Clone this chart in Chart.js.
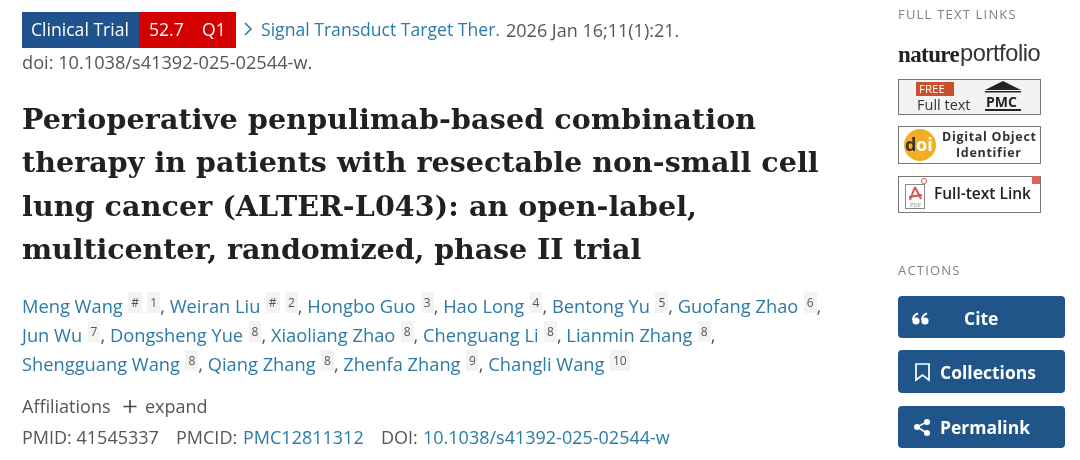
<!DOCTYPE html>
<html>
<head>
<meta charset="utf-8">
<title>Perioperative penpulimab-based combination therapy</title>
<style>
    html, body { margin: 0; padding: 0; width: 1080px; height: 460px; overflow: hidden; background: #fff; font-family: "Open Sans", sans-serif; }
    #page { position: absolute; left: 0; top: 0; }
    .t { position: absolute; white-space: pre; line-height: 1; }
    .body { font-size: 18px; }
    .link { color: #2a7ba6; }
    .gray { color: #555; }
    .title { font-family: "DejaVu Serif", serif; font-weight: bold; font-size: 28.5px; color: #212121; left: 22px; }
    .author { font-size: 18.3px; color: #2c7aa5; left: 22px; }
    .author sup { font-size: 12px; color: #555; background: #f3f3f3; padding: 2px 3px; margin: 0 0 0 5.4px; vertical-align: 6px; line-height: 1; }
    .author i { font-style: normal; color: #555; }
    .head { font-size: 13px; letter-spacing: 1.2px; color: #808080; left: 898px; }
    .btn { color: #fff; font-weight: 700; font-size: 17.5px; }
</style>
</head>
<body>
<canvas id="page" width="1080" height="460"></canvas>
<div id="text"></div>
<script src="https://cdn.jsdelivr.net/npm/chart.js"></script>
<script>
// the reference is an article header, there are no values to plot
const titleLines = [
    "Perioperative penpulimab-based combination",
    "therapy in patients with resectable non-small cell",
    "lung cancer (ALTER-L043): an open-label,",
    "multicenter, randomized, phase II trial"
];
const authorLines = [
    [["Meng Wang", "#", "1"], ["Weiran Liu", "#", "2"], ["Hongbo Guo", "3"], ["Hao Long", "4"], ["Bentong Yu", "5"], ["Guofang Zhao", "6"]],
    [["Jun Wu", "7"], ["Dongsheng Yue", "8"], ["Xiaoliang Zhao", "8"], ["Chenguang Li", "8"], ["Lianmin Zhang", "8"]],
    [["Shengguang Wang", "8"], ["Qiang Zhang", "8"], ["Zhenfa Zhang", "9"], ["Changli Wang", "10"]]
];
const endsWithComma = [true, true, false];

function addText(cls, left, top, html, extra) {
    let el = document.createElement('div');
    el.className = 't ' + cls;
    if (left !== null) el.style.left = left + 'px';
    el.style.top = top + 'px';
    el.innerHTML = html;
    if (extra) el.style.cssText += extra;
    document.getElementById('text').appendChild(el);
}

// top row
addText('body', 31, 21, 'Clinical Trial', 'color:#fff;font-size:17.6px;');
addText('body', 149, 21, '52.7', 'color:#fff;font-size:17.6px;');
addText('body', 202, 21, 'Q1', 'color:#fff;font-size:17.6px;');
addText('body link', 261, 21, 'Signal Transduct Target Ther.', 'font-size:17.6px;');
addText('body gray', 506, 21, '2026 Jan 16;11(1):21.');
addText('body gray', 22, 53, 'doi: 10.1038/s41392-025-02544-w.', 'font-size:18.2px;');

// each line nudged a little to end where the reference line ends
const titleSpacing = [0.15, 0.06, 0.1, -0.08];
titleLines.forEach((line, i) => addText('title', null, 104.5 + i * 43.5, line, 'letter-spacing:' + titleSpacing[i] + 'px;'));

authorLines.forEach((row, i) => {
    let html = row.map(a => {
        let sups = a.slice(1).map(s => '<sup>' + s + '</sup>').join('');
        return a[0] + sups;
    }).join('<i>, </i>');
    if (endsWithComma[i]) html += '<i>,</i>';
    addText('author', null, 296.5 + i * 29, html);
});

addText('body gray', 22, 397, 'Affiliations');
addText('body gray', 145, 397, 'expand');
addText('body gray', 22, 428, 'PMID: 41545337');
addText('body gray', 176, 428, 'PMCID:');
addText('body link', 243, 428, 'PMC12811312');
addText('body gray', 381, 428, 'DOI:');
addText('body link', 423, 428, '10.1038/s41392-025-02544-w');

// side panel
addText('head', null, 8, 'FULL TEXT LINKS');
addText('head', null, 264, 'ACTIONS');
addText('', 898, 43, 'nature', 'font-family:\'Liberation Serif\',serif;font-weight:bold;font-size:23px;color:#222;letter-spacing:-0.6px;');
addText('', 960, 42, 'portfolio', 'font-family:\'Liberation Sans\',sans-serif;font-size:23.6px;color:#333;letter-spacing:-0.4px;');
addText('', 919, 83, 'FREE', 'color:#fff;font-size:11.5px;');
addText('', 917, 98, 'Full text', 'color:#333;font-size:14.5px;');
addText('', 986, 95, 'PMC', 'color:#222;font-size:14px;font-weight:bold;');
addText('', 942, 131, 'Digital Object', 'color:#333;font-size:12.5px;font-weight:bold;letter-spacing:.7px;');
addText('', 956, 147, 'Identifier', 'color:#333;font-size:12.5px;font-weight:bold;letter-spacing:.7px;');
addText('', 934, 186, 'Full-text Link', 'color:#222;font-size:15.5px;font-weight:600;');
addText('btn', 964, 310, 'Cite');
addText('btn', 940, 364, 'Collections');
addText('btn', 940, 419, 'Permalink');

function box(c, x, y, w, h) {
    c.strokeStyle = '#777';
    c.lineWidth = 1;
    c.strokeRect(x + .5, y + .5, w, h);
}

// empty chart, its canvas holds the boxes and icons behind the text
const pagePlugin = {
    id: 'pagePlugin',
    afterDraw(chart) {
        let c = chart.ctx;
        c.save();
        c.fillStyle = '#20528d'; c.fillRect(22, 12, 117, 36);
        c.fillStyle = '#d40000'; c.fillRect(139, 12, 97, 36);
        // chevron
        c.strokeStyle = '#2a7ba6'; c.lineWidth = 1.6;
        c.beginPath(); c.moveTo(245, 23); c.lineTo(251, 29); c.lineTo(245, 35); c.stroke();
        // plus of expand
        c.strokeStyle = '#444'; c.lineWidth = 1.6;
        c.beginPath(); c.moveTo(130, 400); c.lineTo(130, 413); c.moveTo(123.5, 406.5); c.lineTo(136.5, 406.5); c.stroke();

        // PMC box
        c.fillStyle = '#f2f2f2'; c.fillRect(898, 79, 142, 35); box(c, 898, 79, 142, 35);
        c.fillStyle = '#c9502b'; c.fillRect(916, 82, 38, 14);
        c.fillStyle = '#222';
        c.beginPath(); c.moveTo(985, 90); c.lineTo(1003, 81); c.lineTo(1021, 90); c.closePath(); c.fill();
        c.fillRect(985, 91, 36, 1.5);
        c.fillRect(985, 109, 36, 2);
        // doi box
        c.fillStyle = '#fff'; c.fillRect(898, 126, 142, 37); box(c, 898, 126, 142, 37);
        c.fillStyle = '#f2ae27'; c.beginPath(); c.arc(920, 145, 16, 0, Math.PI * 2); c.fill();
        c.font = 'bold 18px "Open Sans"'; c.fillStyle = '#3c3222'; c.fillText('d', 905, 151);
        c.fillStyle = '#fff'; c.fillText('oi', 916, 151);
        // pdf box
        c.fillStyle = '#fff'; c.fillRect(898, 176, 142, 36); box(c, 898, 176, 142, 36);
        c.strokeStyle = '#888'; c.strokeRect(905.5, 184.5, 19, 24);
        c.strokeStyle = '#d9534f'; c.lineWidth = 2;
        c.beginPath(); c.moveTo(915, 187); c.lineTo(910, 200); c.moveTo(915, 187); c.lineTo(921, 199); c.moveTo(909, 197); c.lineTo(922, 195); c.stroke();
        c.fillStyle = '#888'; c.font = '6px "Open Sans"'; c.fillText('PDF', 910, 207);
        c.lineWidth = 1; c.strokeStyle = '#d9534f';
        c.beginPath(); c.arc(924, 181, 2.5, 0, Math.PI * 2); c.stroke();
        c.fillStyle = '#e0605a'; c.fillRect(1032, 176, 8, 8);

        // action buttons
        c.fillStyle = '#20558a';
        [[296, 42], [350, 43], [406, 42]].forEach(b => {
            c.beginPath(); c.roundRect(898, b[0], 167, b[1], 4); c.fill();
        });
        // quote marks
        c.fillStyle = '#fff'; c.strokeStyle = '#fff'; c.lineWidth = 2;
        [916, 925].forEach(x => {
            c.beginPath(); c.arc(x, 321, 3.6, 0, Math.PI * 2); c.fill();
            c.beginPath(); c.moveTo(x - 3, 320); c.quadraticCurveTo(x - 3, 315, x + 2, 313.5); c.stroke();
        });
        c.strokeStyle = '#fff'; c.lineWidth = 1.7;
        c.beginPath(); c.moveTo(916, 364); c.lineTo(929, 364); c.lineTo(929, 380); c.lineTo(922.5, 375); c.lineTo(916, 380); c.closePath(); c.stroke();
        c.beginPath(); c.moveTo(927, 422); c.lineTo(917, 427); c.lineTo(927, 433); c.stroke();
        [[927, 422], [917, 427], [927, 433]].forEach(p => {
            c.beginPath(); c.arc(p[0], p[1], 3, 0, Math.PI * 2); c.fillStyle = '#fff'; c.fill();
        });
        c.restore();
    }
};

new Chart(document.getElementById('page'), {
    type: 'bar',
    data: { labels: [], datasets: [] },
    options: {
        responsive: false,
        animation: false,
        events: [],
        plugins: { legend: { display: false }, tooltip: { enabled: false } },
        scales: { x: { display: false }, y: { display: false } }
    },
    plugins: [pagePlugin]
});
</script>
</body>
</html>
